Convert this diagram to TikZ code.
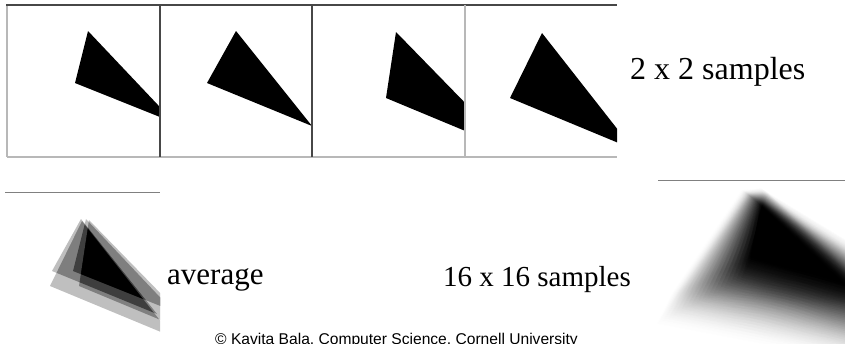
\documentclass[tikz,border=0pt]{standalone}
\usepackage{fontspec}
\setmainfont{Liberation Serif}
\newfontfamily\sansf{Liberation Sans}
\tikzset{
  darkline/.style={draw=black!72, line width=1.5pt},
  lightline/.style={draw=black!28, line width=1.5pt},
  sepline/.style={draw=black!50, line width=1pt},
  lbl/.style={anchor=base west, inner sep=0pt},
}
\newcommand\avglayer[7]{%
  \fill[white, fill opacity=#1, even odd rule] (-60,-60) rectangle (320,320) (#2,#3)--(#4,#5)--(#6,#7)--cycle;
  \fill[black, fill opacity=#1] (#2,#3)--(#4,#5)--(#6,#7)--cycle;}
\begin{document}
\begin{tikzpicture}[x=1pt,y=-1pt]
\useasboundingbox (0,0) rectangle (845,343);
\fill[white] (0,0) rectangle (845,343);
% four 2x2 sample panels
\begin{scope}\clip (7,5) rectangle (160,157); \fill (88,31)--(75,83)--(175,123)--cycle; \end{scope}
\begin{scope}\clip (160,5) rectangle (312,157); \fill (236,31)--(207,83)--(312,126)--cycle; \end{scope}
\begin{scope}\clip (312,5) rectangle (465,157); \fill (396,32)--(386,98)--(511,150)--cycle; \end{scope}
\begin{scope}\clip (465,5) rectangle (617,157); \fill (542,33)--(510,98)--(633,149)--cycle; \end{scope}
% borders
\draw[lightline] (7,5) -- (7,157);
\draw[lightline] (7,157) -- (617,157);
\draw[darkline] (6,5) -- (617,5);
\draw[darkline, line width=2pt] (160,5) -- (160,157);
\draw[darkline, line width=2pt] (312,5) -- (312,157);
\draw[lightline] (465,5) -- (465,157);
% average image
\draw[sepline] (5,192) -- (160,192);
\begin{scope}
  \clip (5,193) rectangle (160,343);
  \begin{scope}[shift={(5,193)}]
    \avglayer{1}{81}{26}{68}{78}{168}{118}
    \avglayer{0.5}{76}{26}{47}{78}{152}{121}
    \avglayer{0.33333}{84}{27}{74}{93}{199}{145}
    \avglayer{0.25}{77}{28}{45}{93}{168}{144}
  \end{scope}
\end{scope}
% 16x16 blurred image
\draw[sepline] (658,180) -- (845,180);
\begin{scope}
  \clip (657,181) rectangle (845,343);
  \begin{scope}[shift={(596,150)}, xscale=2, yscale=1.6]
    \foreach \i in {0,...,15}{
      \pgfmathsetmacro\gop{1/(\i+1)}
      \begin{scope}[transparency group, opacity=\gop]
      \foreach \j in {0,...,15}{
        \pgfmathsetmacro\ua{(2*\i+1)/16-1}
        \pgfmathsetmacro\vb{(2*\j+1)/16-1}
        \pgfmathsetmacro\op{1/(\j+1)}
        \pgfmathsetmacro\Tx{79.5-5*\ua+2*\vb}
        \pgfmathsetmacro\Ty{26+0.5*\ua+1.5*\vb}
        \pgfmathsetmacro\Lx{55-22*\ua-4*\vb}
        \pgfmathsetmacro\Ly{86+14*\ua+10*\vb}
        \pgfmathsetmacro\Rx{177.5-4*\ua}
        \pgfmathsetmacro\Ry{121+23*\vb}
        \avglayer{\op}{\Tx}{\Ty}{\Lx}{\Ly}{\Rx}{\Ry}
      }
      \end{scope}
    }
  \end{scope}
\end{scope}
% labels
\node[lbl, font=\fontsize{32}{38}\selectfont] (l2) at (630,79) {2 x 2 samples};
\node[lbl, font=\fontsize{31}{37}\selectfont] (lavg) at (167,284) {average};
\node[lbl, font=\fontsize{29}{35}\selectfont] (l16) at (443,286) {16 x 16 samples};
\node[lbl, font=\sansf\fontsize{15.6}{18}\selectfont] (copy) at (215,344.5) {© Kavita Bala, Computer Science, Cornell University};
\end{tikzpicture}
\end{document}
